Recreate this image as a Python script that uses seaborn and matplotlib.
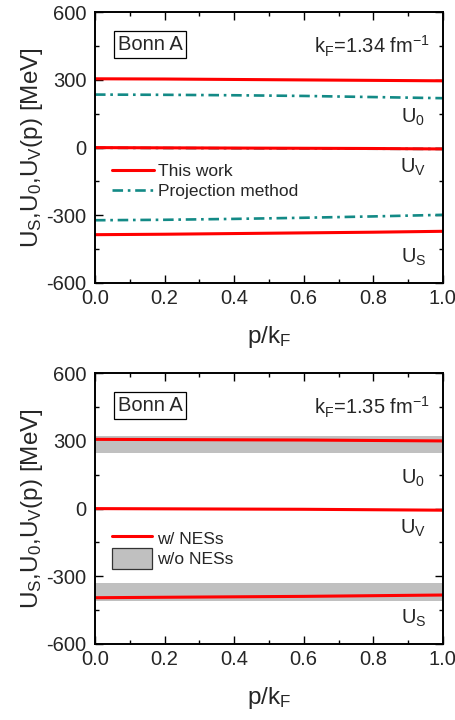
import numpy as np
import pandas as pd
import matplotlib
matplotlib.use("Agg")
import matplotlib.pyplot as plt
from matplotlib.ticker import MultipleLocator
from matplotlib.patches import Patch
import seaborn as sns

# ---------------- data ----------------
p = [0.0, 0.2, 0.4, 0.6, 0.8, 1.0]

# top panel (kF = 1.34 fm^-1)
top_u0_this = [305, 304, 302, 300, 298, 296]
top_uv_this = [0, -1, -2, -3, -4, -6]
top_us_this = [-386, -384, -381, -378, -375, -371]
top_u0_proj = [235, 234, 232, 229, 224, 219]
top_uv_proj = [-1, -2, -3, -4, -5, -6]
top_us_proj = [-322, -320, -316, -311, -305, -298]

# bottom panel (kF = 1.35 fm^-1)
bot_u0_nes = [307, 306, 305, 304, 302, 300]
bot_uv_nes = [0, -1, -2, -3, -5, -7]
bot_us_nes = [-395, -393, -391, -389, -386, -383]
bot_u0_band_lo = [248, 248, 248, 248, 248, 248]
bot_u0_band_hi = [323, 323, 323, 323, 323, 323]
bot_us_band_lo = [-408, -408, -408, -408, -408, -408]
bot_us_band_hi = [-330, -330, -330, -330, -330, -330]

x_ticks = [0.0, 0.2, 0.4, 0.6, 0.8, 1.0]
y_ticks = [-600, -300, 0, 300, 600]

# ---------------- style ----------------
sns.set_style("ticks")
plt.rcParams['font.family'] = ['Liberation Sans', 'DejaVu Sans']
plt.rcParams['mathtext.fontset'] = 'custom'
plt.rcParams['mathtext.rm'] = 'Liberation Sans'
plt.rcParams['mathtext.it'] = 'Liberation Sans'
plt.rcParams['mathtext.default'] = 'regular'
plt.rcParams['axes.unicode_minus'] = False

RED = '#ff0000'
TEAL = '#138a86'
GRAY = '#c0c0c0'

fig = plt.figure(figsize=(4.56, 7.2), dpi=100)
ax_top = fig.add_axes([0.2083, 0.607, 0.763, 0.376])
ax_bot = fig.add_axes([0.2083, 0.1056, 0.763, 0.376])


def style_axes(ax, kf_text):
    ax.set_xlim(0, 1.0)
    ax.set_ylim(-600, 600)
    ax.set_xticks(x_ticks)
    ax.set_yticks(y_ticks)
    ax.set_xticklabels([f"{v:.1f}" for v in x_ticks])
    ax.set_yticklabels([str(v) for v in y_ticks])
    ax.xaxis.set_minor_locator(MultipleLocator(0.1))
    ax.yaxis.set_minor_locator(MultipleLocator(150))
    ax.tick_params(which='both', direction='in', top=True, right=True,
                   labeltop=False, labelright=False, width=1.0, color='black')
    ax.tick_params(which='major', length=5.5, labelsize=14.5)
    ax.tick_params(which='minor', length=3)
    ax.tick_params(axis='x', which='major', pad=4)
    ax.tick_params(axis='y', which='major', pad=6)
    for s in ax.spines.values():
        s.set_linewidth(1.4)
        s.set_color('black')
    ax.set_xlabel("p/k$_F$", fontsize=17.5, labelpad=12)
    ax.set_ylabel("U$_S$,U$_0$,U$_V$(p) [MeV]", fontsize=17.5, labelpad=1)
    ax.text(0.158, 0.882, "Bonn A", transform=ax.transAxes, fontsize=14.5,
            ha='center', va='center',
            bbox=dict(boxstyle='square,pad=0.2', fc='white', ec='black', lw=0.9))
    ax.text(0.963, 0.875, kf_text, transform=ax.transAxes, fontsize=14.5,
            ha='right', va='center')
    ax.text(0.915, 135, "U$_0$", fontsize=14.5, ha='center', va='center')
    ax.text(0.915, -86, "U$_V$", fontsize=14.5, ha='center', va='center')
    ax.text(0.915, -485, "U$_S$", fontsize=14.5, ha='center', va='center')


# ---------------- top panel ----------------
proj_ls = (0, (4.0, 1.8, 1.0, 1.8))
sns.lineplot(x=p, y=top_u0_proj, ax=ax_top, color=TEAL, lw=1.9, linestyle=proj_ls)
sns.lineplot(x=p, y=top_uv_proj, ax=ax_top, color=TEAL, lw=1.9, linestyle=proj_ls)
sns.lineplot(x=p, y=top_us_proj, ax=ax_top, color=TEAL, lw=1.9, linestyle=proj_ls,
             label='Projection method')
sns.lineplot(x=p, y=top_u0_this, ax=ax_top, color=RED, lw=2.2)
sns.lineplot(x=p, y=top_uv_this, ax=ax_top, color=RED, lw=2.2)
sns.lineplot(x=p, y=top_us_this, ax=ax_top, color=RED, lw=2.2, label='This work')

handles, labels = ax_top.get_legend_handles_labels()
order = [labels.index('This work'), labels.index('Projection method')]
ax_top.legend([handles[i] for i in order], [labels[i] for i in order],
              loc='center left', bbox_to_anchor=(0.05, 0.375), frameon=False,
              fontsize=12.5, handlelength=2.4, handletextpad=0.25,
              labelspacing=0.25, borderpad=0, borderaxespad=0)
style_axes(ax_top, "k$_F$=1.34 fm$^{-1}$")

# ---------------- bottom panel ----------------
ax_bot.fill_between(p, bot_u0_band_lo, bot_u0_band_hi, color=GRAY, lw=0)
ax_bot.fill_between(p, bot_us_band_lo, bot_us_band_hi, color=GRAY, lw=0)
sns.lineplot(x=p, y=bot_u0_nes, ax=ax_bot, color=RED, lw=2.2)
sns.lineplot(x=p, y=bot_uv_nes, ax=ax_bot, color=RED, lw=2.2)
sns.lineplot(x=p, y=bot_us_nes, ax=ax_bot, color=RED, lw=2.2)

h_line = plt.Line2D([], [], color=RED, lw=2.2)
h_band = Patch(facecolor=GRAY, edgecolor='#333333', lw=0.9)
ax_bot.legend([h_line, h_band], ['w/ NESs', 'w/o NESs'],
              loc='center left', bbox_to_anchor=(0.05, 0.353), frameon=False,
              fontsize=12.5, handlelength=2.3, handleheight=1.45,
              handletextpad=0.25, labelspacing=0.0, borderpad=0,
              borderaxespad=0)
style_axes(ax_bot, "k$_F$=1.35 fm$^{-1}$")

fig.savefig("out.png", dpi=100)
